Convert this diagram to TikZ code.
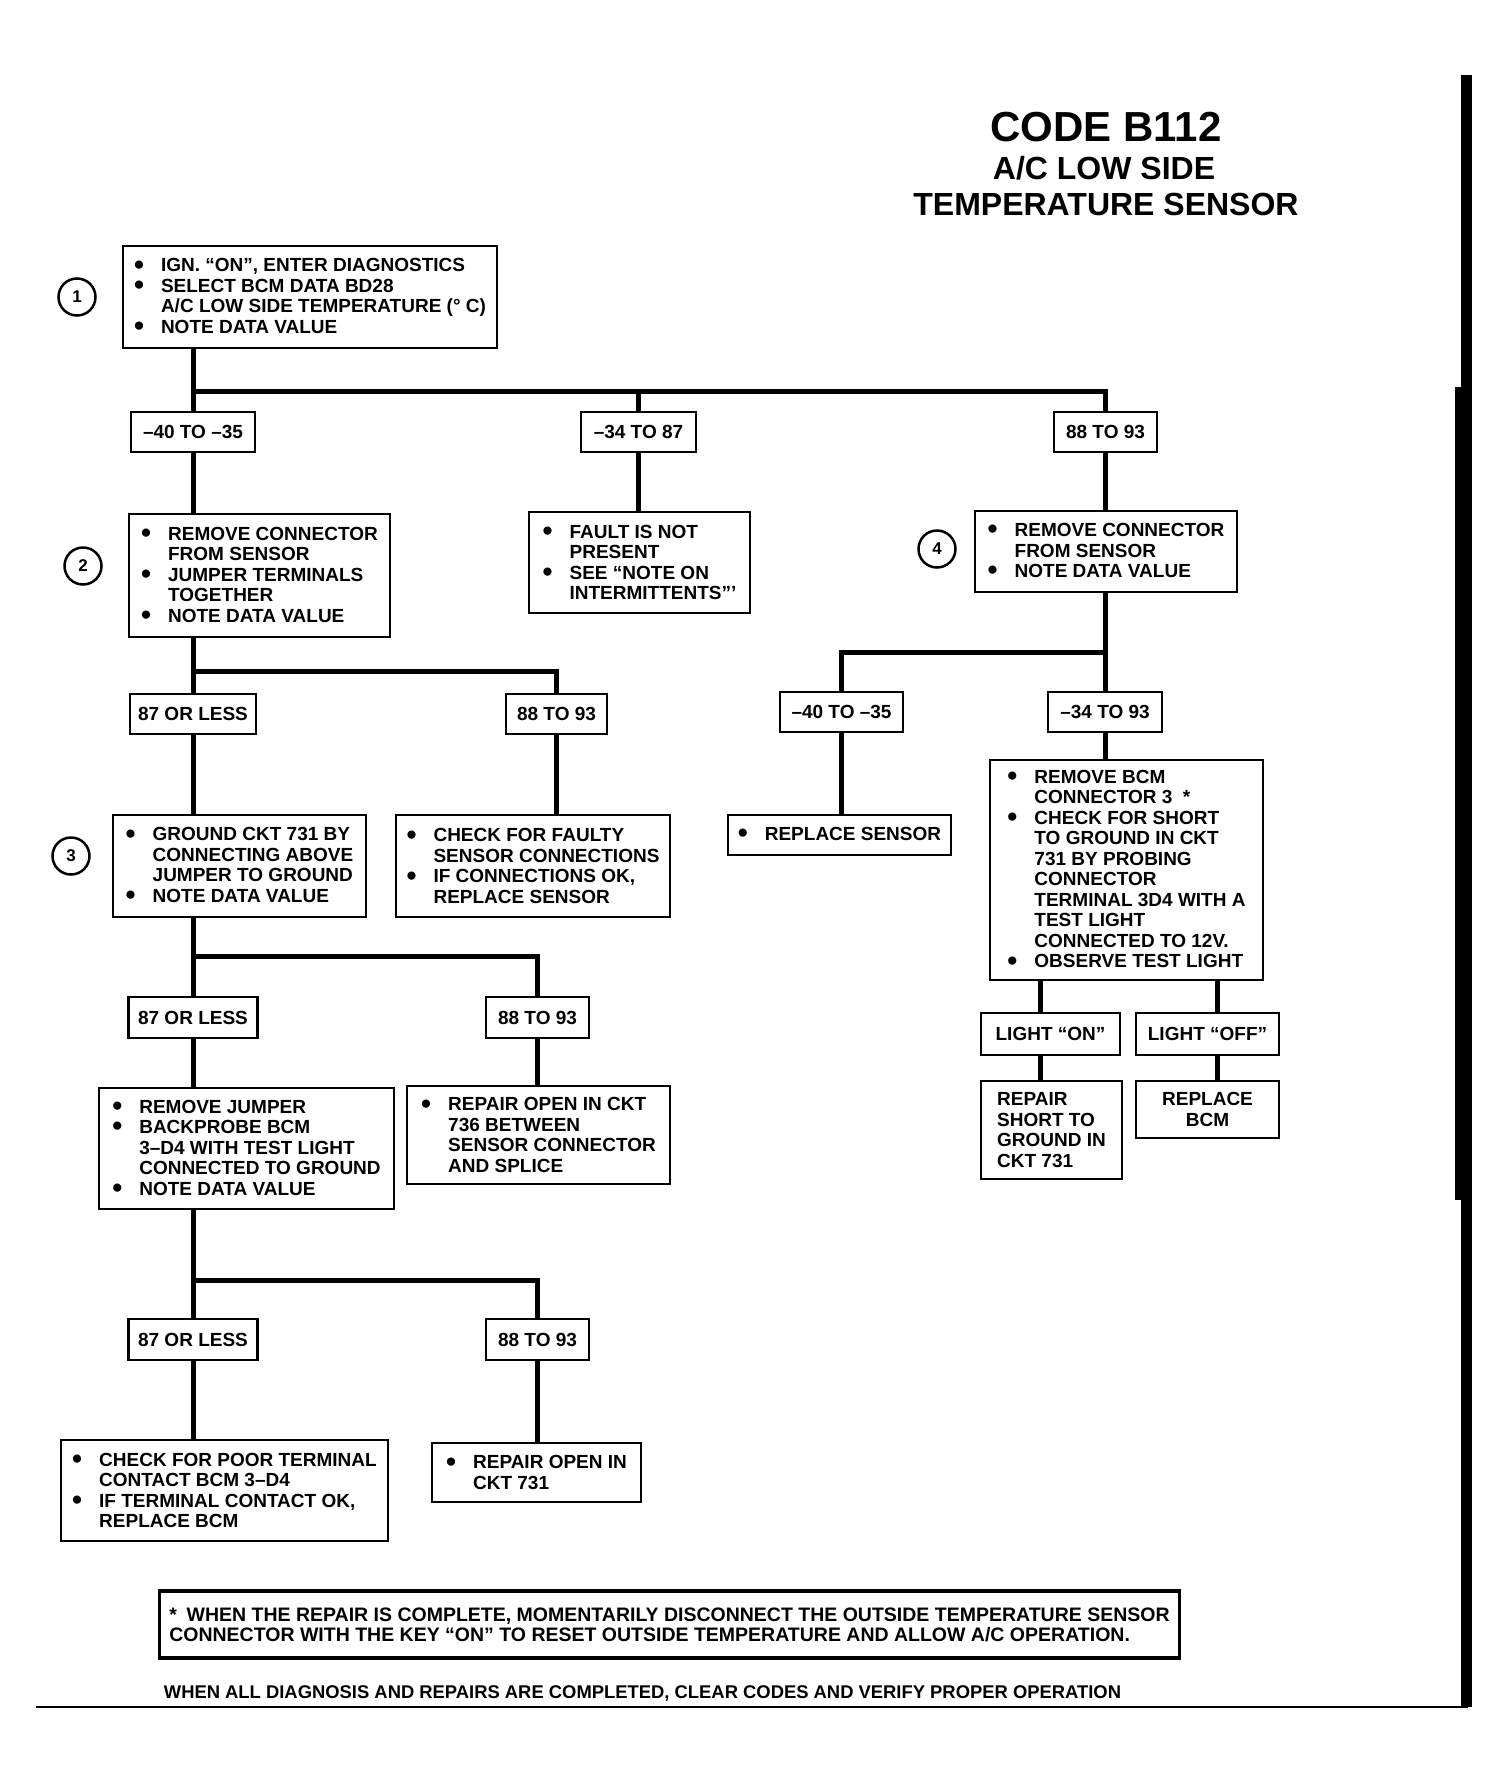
\documentclass[tikz,border=0pt]{standalone}
\usepackage{fontspec}
\usepackage{graphicx}
\setmainfont{Liberation Sans}
\usetikzlibrary{positioning}

\newcommand\bitem{\makebox[27pt][l]{\raisebox{-0.12em}{\scalebox{1.5}{\textbullet}}}}
\newcommand\bcont{\hspace*{27pt}}

\begin{document}
\begin{tikzpicture}[
  x=1pt, y=-1pt,
  font=\bfseries\fontsize{19}{20.5}\selectfont,
  stepbox/.style={
    rectangle, draw=black, line width=2pt,
    inner xsep=10pt, inner ysep=0pt,
    align=left, fill=white
  },
  tag/.style={
    rectangle, draw=black, line width=2.2pt,
    inner sep=0pt, minimum height=40pt
  },
  num/.style={
    circle, draw=black, line width=2.5pt,
    minimum size=37pt, inner sep=0pt,
    font=\bfseries\fontsize{17}{17}\selectfont
  },
  wire/.style={draw=black, line width=5pt},
  headline/.style={anchor=base, inner sep=0pt}
]
\useasboundingbox (0,0) rectangle (1509,1785);

% ─── Title ──────────────────────────────────────────────────
\node[headline, font=\bfseries\fontsize{42}{42}\selectfont] (t1) at (1106,141) {CODE B112};
\node[headline, font=\bfseries\fontsize{32}{32}\selectfont] (t2) at (1104,179) {A/C LOW SIDE};
\node[headline, font=\bfseries\fontsize{32}{32}\selectfont] (t3) at (1106,215) {TEMPERATURE SENSOR};

% ─── Step 1 ─────────────────────────────────────────────────
\node[num] (n1) at (77,297) {1};
\node[stepbox, minimum width=374, minimum height=102] (s1) at (310,297)
  {\bitem IGN. ``ON'', ENTER DIAGNOSTICS\\ \bitem SELECT BCM DATA BD28\\
   \bcont A/C LOW SIDE TEMPERATURE (° C)\\ \bitem NOTE DATA VALUE};

\node[tag, minimum width=124] (a1) at (193,432) {--40 TO --35};
\node[tag, minimum width=115] (a2) at (638.5,432) {--34 TO 87};
\node[tag, minimum width=103] (a3) at (1105.5,432) {88 TO 93};

% ─── Step 2 / fault / step 4 ────────────────────────────────
\node[num] (n2) at (83,566) {2};
\node[stepbox, minimum width=261, minimum height=123] (s2) at (259.5,575.5)
  {\bitem REMOVE CONNECTOR\\ \bcont FROM SENSOR\\ \bitem JUMPER TERMINALS\\
   \bcont TOGETHER\\ \bitem NOTE DATA VALUE};
\node[stepbox, minimum width=221, minimum height=101] (fault) at (639.5,562.5)
  {\bitem FAULT IS NOT\\ \bcont PRESENT\\ \bitem SEE ``NOTE ON\\ \bcont INTERMITTENTS'''};
\node[num] (n4) at (937,549) {4};
\node[stepbox, minimum width=262, minimum height=81] (s4) at (1106,551.5)
  {\bitem REMOVE CONNECTOR\\ \bcont FROM SENSOR\\ \bitem NOTE DATA VALUE};

\node[tag, minimum width=126] (b1) at (193,714) {87 OR LESS};
\node[tag, minimum width=101] (b2) at (556.5,714) {88 TO 93};
\node[tag, minimum width=123] (c1) at (841.5,712) {--40 TO --35};
\node[tag, minimum width=114] (c2) at (1105,712) {--34 TO 93};

% ─── Step 3 row ─────────────────────────────────────────────
\node[num] (n3) at (71,856) {3};
\node[stepbox, minimum width=253, minimum height=102] (s3) at (239.5,866)
  {\bitem GROUND CKT 731 BY\\ \bcont CONNECTING ABOVE\\ \bcont JUMPER TO GROUND\\
   \bitem NOTE DATA VALUE};
\node[stepbox, minimum width=274, minimum height=102] (faulty) at (533,866)
  {\bitem CHECK FOR FAULTY\\ \bcont SENSOR CONNECTIONS\\ \bitem IF CONNECTIONS OK,\\
   \bcont REPLACE SENSOR};
\node[stepbox, minimum width=217, minimum height=40] (repsens) at (839.5,835)
  {\bitem REPLACE SENSOR};
\node[stepbox, minimum width=273, minimum height=220] (bcm) at (1126.5,870)
  {\bitem REMOVE BCM\\ \bcont CONNECTOR 3~~*\\ \bitem CHECK FOR SHORT\\
   \bcont TO GROUND IN CKT\\ \bcont 731 BY PROBING\\ \bcont CONNECTOR\\
   \bcont TERMINAL 3D4 WITH A\\ \bcont TEST LIGHT\\ \bcont CONNECTED TO 12V.\\
   \bitem OBSERVE TEST LIGHT};

\node[tag, minimum width=129, minimum height=41] (d1) at (193,1017.5) {87 OR LESS};
\node[tag, minimum width=103, minimum height=41] (d2) at (537.5,1017.5) {88 TO 93};
\node[tag, minimum width=139, minimum height=42] (on) at (1050.5,1034) {LIGHT ``ON''};
\node[tag, minimum width=143, minimum height=42] (off) at (1207.5,1034) {LIGHT ``OFF''};

% ─── Lower steps ────────────────────────────────────────────
\node[stepbox, minimum width=295, minimum height=121] (s5) at (246.5,1148.5)
  {\bitem REMOVE JUMPER\\ \bitem BACKPROBE BCM\\ \bcont 3--D4 WITH TEST LIGHT\\
   \bcont CONNECTED TO GROUND\\ \bitem NOTE DATA VALUE};
\node[stepbox, minimum width=263, minimum height=98] (open736) at (538.5,1135)
  {\bitem REPAIR OPEN IN CKT\\ \bcont 736 BETWEEN\\ \bcont SENSOR CONNECTOR\\
   \bcont AND SPLICE};
\node[stepbox, minimum width=141, minimum height=98] (short) at (1051.5,1130)
  {REPAIR\\ SHORT TO\\ GROUND IN\\ CKT 731};
\node[stepbox, align=center, minimum width=143, minimum height=57] (repbcm) at (1207.5,1109.5)
  {REPLACE\\ BCM};

\node[tag, minimum width=129, minimum height=41] (e1) at (193,1339.5) {87 OR LESS};
\node[tag, minimum width=103, minimum height=41] (e2) at (537.5,1339.5) {88 TO 93};

\node[stepbox, minimum width=327, minimum height=101] (poor) at (224.5,1490.5)
  {\bitem CHECK FOR POOR TERMINAL\\ \bcont CONTACT BCM 3--D4\\
   \bitem IF TERMINAL CONTACT OK,\\ \bcont REPLACE BCM};
\node[stepbox, minimum width=209, minimum height=59] (open731) at (536.5,1472.5)
  {\bitem REPAIR OPEN IN\\ \bcont CKT 731};

% ─── Connectors ─────────────────────────────────────────────
\coordinate (j1) at (193,391);
\draw[wire] (s1.south -| a1.north) -- (a1.north);
\draw[wire] (j1) -| (a3.north);
\draw[wire] (j1 -| a2.north) -- (a2.north);
\draw[wire] (a1.south) -- (a1.south |- s2.north);
\draw[wire] (a2.south) -- (a2.south |- fault.north);
\draw[wire] (a3.south) -- (a3.south |- s4.north);

\coordinate (j2) at (193,671);
\draw[wire] (s2.south -| b1.north) -- (b1.north);
\draw[wire] (j2) -| (b2.north);
\draw[wire] (b1.south) -- (b1.south |- s3.north);
\draw[wire] (b2.south) -- (b2.south |- faulty.north);

\coordinate (j4) at (1105,652);
\draw[wire] (s4.south -| c2.north) -- (c2.north);
\draw[wire] (j4) -| (c1.north);
\draw[wire] (c1.south) -- (c1.south |- repsens.north);
\draw[wire] (c2.south) -- (c2.south |- bcm.north);

\coordinate (k1) at (1040,0);
\coordinate (k2) at (1217,0);
\draw[wire] (bcm.south -| k1) -- (on.north -| k1);
\draw[wire] (bcm.south -| k2) -- (off.north -| k2);
\draw[wire] (on.south -| k1) -- (short.north -| k1);
\draw[wire] (off.south -| k2) -- (repbcm.north -| k2);

\coordinate (j3) at (193,956);
\draw[wire] (s3.south -| d1.north) -- (d1.north);
\draw[wire] (j3) -| (d2.north);
\draw[wire] (d1.south) -- (d1.south |- s5.north);
\draw[wire] (d2.south) -- (d2.south |- open736.north);

\coordinate (j5) at (193,1280);
\draw[wire] (s5.south -| e1.north) -- (e1.north);
\draw[wire] (j5) -| (e2.north);
\draw[wire] (e1.south) -- (e1.south |- poor.north);
\draw[wire] (e2.south) -- (e2.south |- open731.north);

% ─── Notes and page edge ────────────────────────────────────
\node[stepbox, line width=3.5pt, minimum width=1019, minimum height=67,
      font=\bfseries\fontsize{19.5}{20}\selectfont] (note) at (669.5,1624.5)
  {*\enspace WHEN THE REPAIR IS COMPLETE, MOMENTARILY DISCONNECT THE OUTSIDE TEMPERATURE SENSOR\\
   CONNECTOR WITH THE KEY ``ON'' TO RESET OUTSIDE TEMPERATURE AND ALLOW A/C OPERATION.};
\node[font=\bfseries\fontsize{18.4}{20}\selectfont, inner sep=0pt] (final) at (642.5,1693)
  {WHEN ALL DIAGNOSIS AND REPAIRS ARE COMPLETED, CLEAR CODES AND VERIFY PROPER OPERATION};

\draw[line width=1.5pt] (36,1707) -- (1468,1707);
\fill (1461,75) rectangle (1472,1707);
\fill (1455,387) rectangle (1472,1200);

\end{tikzpicture}
\end{document}
